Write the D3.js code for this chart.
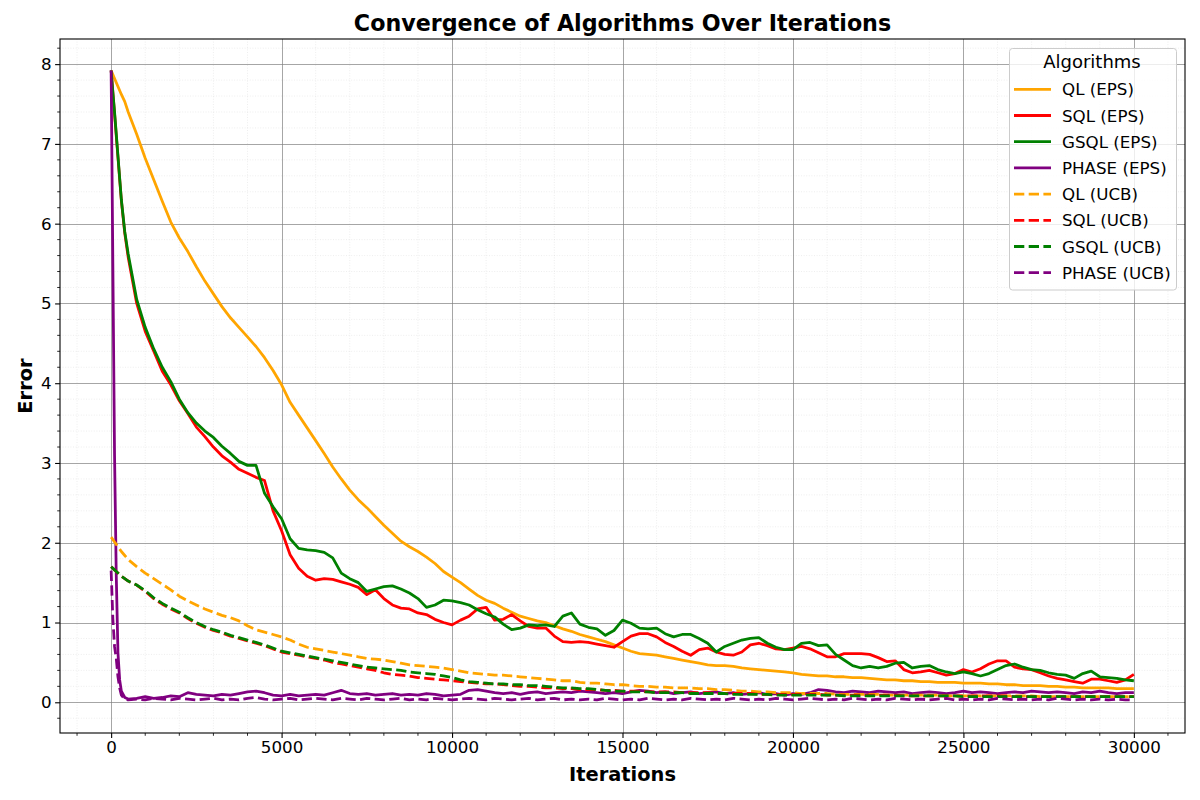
<!DOCTYPE html>
<html>
<head>
<meta charset="utf-8">
<script src="https://cdn.jsdelivr.net/npm/d3@7"></script>
<style>
  body { margin: 0; background: #fff; }
  text { font-family: "DejaVu Sans", sans-serif; }
</style>
</head>
<body>
<script>
// iteration grid shared by every series
const iterations = [0, 50, 100, 150, 200, 250, 300, 400, 500, 750,
  1000, 1250, 1500, 1750, 2000, 2250, 2500, 2750, 3000, 3250, 3500, 3750,
  4000, 4250, 4500, 4750, 5000, 5250, 5500, 5750, 6000, 6250, 6500, 6750,
  7000, 7250, 7500, 7750, 8000, 8250, 8500, 8750, 9000, 9250, 9500, 9750,
  10000, 10250, 10500, 10750, 11000, 11250, 11500, 11750, 12000, 12250, 12500, 12750,
  13000, 13250, 13500, 13750, 14000, 14250, 14500, 14750, 15000, 15250, 15500, 15750,
  16000, 16250, 16500, 16750, 17000, 17250, 17500, 17750, 18000, 18250, 18500, 18750,
  19000, 19250, 19500, 19750, 20000, 20250, 20500, 20750, 21000, 21250, 21500, 21750,
  22000, 22250, 22500, 22750, 23000, 23250, 23500, 23750, 24000, 24250, 24500, 24750,
  25000, 25250, 25500, 25750, 26000, 26250, 26500, 26750, 27000, 27250, 27500, 27750,
  28000, 28250, 28500, 28750, 29000, 29250, 29500, 29750, 30000];

const qlEps = [7.92, 7.87, 7.82, 7.77, 7.72, 7.67, 7.62, 7.53, 7.40, 7.12,
  6.82, 6.55, 6.28, 6.02,   5.82, 5.65, 5.46, 5.28,   5.12, 4.96, 4.82, 4.70,
  4.58, 4.46, 4.32, 4.16,   3.98, 3.76, 3.60, 3.44,   3.28, 3.12, 2.95, 2.80,
  2.66, 2.54, 2.44, 2.33,   2.22, 2.12, 2.02, 1.95,   1.89, 1.82, 1.74, 1.64,
  1.57, 1.50, 1.42, 1.34,   1.28, 1.24, 1.18, 1.13,   1.08, 1.05, 1.02, 1.00,
  0.96, 0.92, 0.89, 0.85,   0.82, 0.79, 0.76, 0.72,   0.68, 0.64, 0.61, 0.60,
  0.59, 0.57, 0.55, 0.53,   0.51, 0.49, 0.47, 0.46,   0.46, 0.45, 0.43, 0.42,
  0.41, 0.40, 0.39, 0.38,   0.37, 0.35, 0.34, 0.33,   0.33, 0.32, 0.32, 0.31,
  0.31, 0.30, 0.29, 0.28,   0.28, 0.27, 0.27, 0.26,   0.26, 0.25, 0.25, 0.25,
  0.24, 0.24, 0.24, 0.23,   0.23, 0.22, 0.22, 0.21,   0.21, 0.21, 0.20, 0.20,
  0.19, 0.19, 0.18, 0.18,   0.18, 0.18, 0.17, 0.17,   0.17];

const sqlEps = [7.92, 7.65, 7.38, 7.10, 6.83, 6.56, 6.29, 5.88, 5.58, 5.00,
  4.65, 4.40, 4.15, 3.98,   3.78, 3.62, 3.45, 3.33,   3.20, 3.09, 3.01, 2.92,
  2.87, 2.82, 2.78, 2.40,   2.15, 1.85, 1.68, 1.58,   1.53, 1.55, 1.54, 1.51,
  1.48, 1.44, 1.35, 1.41,   1.30, 1.22, 1.18, 1.17,   1.12, 1.10, 1.04, 1.00,
  0.97, 1.03, 1.08, 1.17,   1.19, 1.03, 1.04, 1.10,   1.02, 0.95, 0.93, 0.93,
  0.83, 0.76, 0.75, 0.76,   0.75, 0.73, 0.71, 0.69,   0.76, 0.83, 0.86, 0.86,
  0.82, 0.75, 0.70, 0.64,   0.59, 0.66, 0.68, 0.63,   0.60, 0.59, 0.63, 0.72,
  0.74, 0.71, 0.67, 0.66,   0.68, 0.70, 0.67, 0.62,   0.57, 0.57, 0.61, 0.61,
  0.61, 0.60, 0.56, 0.51,   0.52, 0.41, 0.37, 0.38,   0.40, 0.37, 0.34, 0.36,
  0.41, 0.38, 0.42, 0.48,   0.52, 0.52, 0.44, 0.42,   0.41, 0.37, 0.33, 0.30,
  0.28, 0.26, 0.24, 0.29,   0.29, 0.27, 0.25, 0.28,   0.35];

const gsqlEps = [7.92, 7.65, 7.40, 7.13, 6.85, 6.57, 6.30, 5.90, 5.62, 5.05,
  4.70, 4.43, 4.20, 4.02,   3.80, 3.63, 3.50, 3.40,   3.32, 3.21, 3.12, 3.02,
  2.97, 2.97, 2.62, 2.45,   2.30, 2.05, 1.93, 1.91,   1.90, 1.88, 1.81, 1.62,
  1.55, 1.50, 1.39, 1.42,   1.45, 1.46, 1.42, 1.37,   1.30, 1.19, 1.22, 1.28,
  1.27, 1.25, 1.22, 1.16,   1.11, 1.07, 0.98, 0.91,   0.93, 0.97, 0.96, 0.97,
  0.95, 1.08, 1.12, 0.98,   0.94, 0.92, 0.84, 0.90,   1.03, 0.99, 0.93, 0.92,
  0.93, 0.86, 0.82, 0.85,   0.85, 0.80, 0.74, 0.63,   0.70, 0.74, 0.78, 0.80,
  0.81, 0.74, 0.69, 0.66,   0.66, 0.74, 0.75, 0.71,   0.72, 0.60, 0.53, 0.46,
  0.43, 0.45, 0.43, 0.45,   0.49, 0.50, 0.43, 0.45,   0.46, 0.41, 0.38, 0.36,
  0.38, 0.36, 0.33, 0.36,   0.41, 0.46, 0.48, 0.44,   0.41, 0.40, 0.37, 0.35,
  0.34, 0.30, 0.36, 0.39,   0.32, 0.31, 0.30, 0.28,   0.27];

const phaseEps = [7.92, 5.50, 3.10, 1.60, 0.62, 0.28, 0.14, 0.06, 0.04, 0.05,
  0.07, 0.05, 0.06, 0.08,   0.07, 0.12, 0.10, 0.09,   0.08, 0.10, 0.09, 0.11,
  0.13, 0.14, 0.12, 0.09,   0.08, 0.10, 0.08, 0.09,   0.10, 0.09, 0.12, 0.15,
  0.11, 0.10, 0.11, 0.09,   0.10, 0.11, 0.09, 0.10,   0.09, 0.11, 0.10, 0.08,
  0.09, 0.10, 0.15, 0.16,   0.14, 0.12, 0.11, 0.12,   0.10, 0.12, 0.13, 0.11,
  0.12, 0.13, 0.12, 0.14,   0.13, 0.12, 0.11, 0.12,   0.11, 0.13, 0.15, 0.14,
  0.12, 0.13, 0.11, 0.12,   0.13, 0.11, 0.12, 0.13,   0.11, 0.12, 0.10, 0.11,
  0.12, 0.10, 0.11, 0.09,   0.11, 0.10, 0.12, 0.16,   0.15, 0.13, 0.12, 0.14,
  0.13, 0.12, 0.14, 0.13,   0.12, 0.13, 0.11, 0.12,   0.13, 0.12, 0.11, 0.12,
  0.14, 0.12, 0.13, 0.12,   0.11, 0.12, 0.13, 0.12,   0.14, 0.13, 0.12, 0.13,
  0.12, 0.11, 0.13, 0.12,   0.14, 0.12, 0.11, 0.12,   0.12];

const qlUcb = [2.07, 2.04, 2.01, 1.98, 1.95, 1.92, 1.89, 1.84, 1.79, 1.70,
  1.62, 1.55, 1.48, 1.41,   1.33, 1.27, 1.22, 1.17,   1.13, 1.09, 1.06, 1.02,
  0.96, 0.91, 0.88, 0.85,   0.82, 0.78, 0.73, 0.69,   0.67, 0.65, 0.63, 0.61,
  0.59, 0.57, 0.55, 0.54,   0.53, 0.51, 0.49, 0.47,   0.46, 0.45, 0.44, 0.43,
  0.41, 0.39, 0.37, 0.36,   0.35, 0.34, 0.34, 0.33,   0.32, 0.31, 0.30, 0.29,
  0.28, 0.27, 0.27, 0.25,   0.24, 0.24, 0.23, 0.22,   0.22, 0.21, 0.20, 0.20,
  0.19, 0.19, 0.18, 0.18,   0.18, 0.17, 0.17, 0.16,   0.16, 0.15, 0.14, 0.14,
  0.13, 0.13, 0.12, 0.12,   0.12, 0.11, 0.11, 0.11,   0.11, 0.10, 0.10, 0.10,
  0.10, 0.10, 0.10, 0.09,   0.09, 0.09, 0.09, 0.09,   0.09, 0.09, 0.08, 0.08,
  0.08, 0.08, 0.08, 0.08,   0.08, 0.08, 0.08, 0.08,   0.08, 0.07, 0.07, 0.07,
  0.07, 0.07, 0.07, 0.07,   0.07, 0.07, 0.07, 0.07,   0.07];

const sqlUcb = [1.70, 1.68, 1.66, 1.64, 1.62, 1.60, 1.58, 1.55, 1.52, 1.47,
  1.39, 1.30, 1.23, 1.17,   1.12, 1.05, 0.99, 0.94,   0.90, 0.87, 0.83, 0.80,
  0.77, 0.74, 0.71, 0.67,   0.63, 0.61, 0.59, 0.57,   0.55, 0.53, 0.50, 0.48,
  0.46, 0.44, 0.42, 0.40,   0.37, 0.35, 0.34, 0.33,   0.31, 0.30, 0.29, 0.28,
  0.27, 0.26, 0.25, 0.24,   0.23, 0.23, 0.22, 0.21,   0.20, 0.20, 0.19, 0.18,
  0.18, 0.17, 0.17, 0.16,   0.16, 0.16, 0.15, 0.15,   0.14, 0.14, 0.14, 0.13,
  0.13, 0.13, 0.13, 0.12,   0.12, 0.12, 0.12, 0.11,   0.11, 0.11, 0.11, 0.11,
  0.10, 0.10, 0.10, 0.10,   0.10, 0.10, 0.10, 0.10,   0.09, 0.09, 0.09, 0.09,
  0.09, 0.09, 0.09, 0.09,   0.09, 0.08, 0.08, 0.08,   0.08, 0.08, 0.08, 0.08,
  0.08, 0.08, 0.08, 0.08,   0.08, 0.08, 0.07, 0.07,   0.07, 0.07, 0.07, 0.07,
  0.07, 0.07, 0.07, 0.07,   0.07, 0.07, 0.07, 0.07,   0.07];

const gsqlUcb = [1.70, 1.68, 1.66, 1.64, 1.62, 1.60, 1.58, 1.55, 1.52, 1.47,
  1.40, 1.31, 1.24, 1.18,   1.13, 1.06, 1.00, 0.95,   0.91, 0.88, 0.84, 0.81,
  0.78, 0.75, 0.72, 0.68,   0.64, 0.62, 0.60, 0.58,   0.56, 0.54, 0.52, 0.50,
  0.48, 0.46, 0.44, 0.43,   0.42, 0.41, 0.40, 0.38,   0.37, 0.36, 0.35, 0.33,
  0.31, 0.28, 0.26, 0.25,   0.24, 0.23, 0.23, 0.22,   0.22, 0.21, 0.21, 0.20,
  0.19, 0.18, 0.18, 0.17,   0.17, 0.16, 0.15, 0.14,   0.14, 0.13, 0.13, 0.13,
  0.12, 0.12, 0.12, 0.12,   0.11, 0.11, 0.11, 0.11,   0.11, 0.10, 0.10, 0.10,
  0.10, 0.10, 0.09, 0.09,   0.09, 0.09, 0.09, 0.09,   0.09, 0.09, 0.08, 0.08,
  0.08, 0.08, 0.08, 0.08,   0.08, 0.08, 0.08, 0.08,   0.08, 0.08, 0.08, 0.08,
  0.07, 0.07, 0.07, 0.07,   0.07, 0.07, 0.07, 0.07,   0.07, 0.07, 0.07, 0.07,
  0.07, 0.07, 0.07, 0.07,   0.07, 0.07, 0.07, 0.07,   0.07];

const phaseUcb = [1.65, 1.05, 0.70, 0.55, 0.32, 0.18, 0.09, 0.04, 0.03, 0.04,
  0.03, 0.05, 0.04, 0.03,   0.05, 0.04, 0.03, 0.04,   0.05, 0.03, 0.04, 0.03,
  0.05, 0.06, 0.04, 0.03,   0.04, 0.05, 0.03, 0.04,   0.05, 0.04, 0.03, 0.05,
  0.04, 0.03, 0.05, 0.04,   0.03, 0.04, 0.05, 0.03,   0.04, 0.03, 0.05, 0.04,
  0.03, 0.04, 0.05, 0.04,   0.03, 0.05, 0.04, 0.03,   0.04, 0.05, 0.03, 0.04,
  0.05, 0.03, 0.04, 0.03,   0.04, 0.03, 0.05, 0.04,   0.03, 0.04, 0.03, 0.05,
  0.04, 0.03, 0.04, 0.03,   0.05, 0.04, 0.03, 0.04,   0.03, 0.05, 0.04, 0.03,
  0.04, 0.03, 0.05, 0.04,   0.03, 0.04, 0.05, 0.04,   0.03, 0.04, 0.03, 0.05,
  0.04, 0.03, 0.04, 0.03,   0.05, 0.04, 0.03, 0.04,   0.03, 0.04, 0.05, 0.03,
  0.04, 0.03, 0.04, 0.03,   0.05, 0.04, 0.03, 0.04,   0.03, 0.04, 0.03, 0.05,
  0.04, 0.03, 0.04, 0.03,   0.04, 0.03, 0.04, 0.03,   0.03];

const seriesNames = ["QL (EPS)", "SQL (EPS)", "GSQL (EPS)", "PHASE (EPS)",
                     "QL (UCB)", "SQL (UCB)", "GSQL (UCB)", "PHASE (UCB)"];
const seriesValues = [qlEps, sqlEps, gsqlEps, phaseEps, qlUcb, sqlUcb, gsqlUcb, phaseUcb];
const colors = ["orange", "red", "green", "purple", "orange", "red", "green", "purple"];
const dashed = [false, false, false, false, true, true, true, true];

const xTicks = [0, 5000, 10000, 15000, 20000, 25000, 30000];
const yTicks = [0, 1, 2, 3, 4, 5, 6, 7, 8];

const W = 1200, H = 800;
const pLeft = 60, pRight = 1185, pTop = 39, pBottom = 733;

const svg = d3.select("body").append("svg")
  .attr("width", W).attr("height", H);

const x = d3.scaleLinear().domain([-1500, 31500]).range([pLeft, pRight]);
const y = d3.scaleLinear().domain([-0.385, 8.315]).range([pBottom, pTop]);

const xMinor = d3.range(-1000, 31001, 1000).filter(v => v % 5000 !== 0);
const yMinor = d3.range(-0.2, 8.31, 0.2).map(v => +v.toFixed(1)).filter(v => Math.abs(v - Math.round(v)) > 1e-6);

// minor grid
const gMinor = svg.append("g");
gMinor.selectAll(".mx").data(xMinor).join("line")
  .attr("x1", d => x(d)).attr("x2", d => x(d))
  .attr("y1", pTop).attr("y2", pBottom)
  .attr("stroke", "#cfcfcf").attr("stroke-opacity", 0.45)
  .attr("stroke-width", 0.8).attr("stroke-dasharray", "1,1.6");
gMinor.selectAll(".my").data(yMinor).join("line")
  .attr("y1", d => y(d)).attr("y2", d => y(d))
  .attr("x1", pLeft).attr("x2", pRight)
  .attr("stroke", "#cfcfcf").attr("stroke-opacity", 0.45)
  .attr("stroke-width", 0.8).attr("stroke-dasharray", "1,1.6");

// major grid
const gMajor = svg.append("g");
gMajor.selectAll(".gx").data(xTicks).join("line")
  .attr("x1", d => Math.round(x(d)) + 0.5).attr("x2", d => Math.round(x(d)) + 0.5)
  .attr("y1", pTop).attr("y2", pBottom)
  .attr("stroke", "#808080").attr("stroke-opacity", 0.7).attr("stroke-width", 1);
gMajor.selectAll(".gy").data(yTicks).join("line")
  .attr("y1", d => Math.round(y(d)) + 0.5).attr("y2", d => Math.round(y(d)) + 0.5)
  .attr("x1", pLeft).attr("x2", pRight)
  .attr("stroke", "#808080").attr("stroke-opacity", 0.7).attr("stroke-width", 1);

// lines
svg.append("clipPath").attr("id", "plot")
  .append("rect").attr("x", pLeft).attr("y", pTop)
  .attr("width", pRight - pLeft).attr("height", pBottom - pTop);

const line = d3.line()
  .x((d, i) => x(iterations[i]))
  .y(d => y(d));

svg.append("g").attr("clip-path", "url(#plot)")
  .selectAll("path").data(seriesValues).join("path")
  .attr("d", d => line(d))
  .attr("fill", "none")
  .attr("stroke", (d, i) => colors[i])
  .attr("stroke-width", 2.78)
  .attr("stroke-linejoin", "round")
  .attr("stroke-dasharray", (d, i) => dashed[i] ? "10.3,4.4" : null);

// axes
const xAxis = d3.axisBottom(x).tickValues(xTicks).tickSize(4.9).tickPadding(3.5)
  .tickFormat(d3.format("d"));
const yAxis = d3.axisLeft(y).tickValues(yTicks).tickSize(4.9).tickPadding(3.5)
  .tickFormat(d3.format("d"));

const gx = svg.append("g").attr("transform", `translate(0,${pBottom})`).call(xAxis);
const gy = svg.append("g").attr("transform", `translate(${pLeft},0)`).call(yAxis);
[gx, gy].forEach(g => {
  g.select(".domain").remove();
  g.selectAll(".tick line").attr("stroke", "#000").attr("stroke-width", 1.1);
  g.selectAll(".tick text").attr("fill", "#000")
    .style("font-family", "DejaVu Sans").style("font-size", "16.7px");
});
gx.selectAll(".tick text").attr("dy", "0.72em");

// minor ticks
svg.append("g").selectAll("line").data(xMinor).join("line")
  .attr("x1", d => x(d)).attr("x2", d => x(d))
  .attr("y1", pBottom).attr("y2", pBottom + 2.8)
  .attr("stroke", "#000").attr("stroke-width", 0.83);
svg.append("g").selectAll("line").data(yMinor).join("line")
  .attr("y1", d => y(d)).attr("y2", d => y(d))
  .attr("x1", pLeft).attr("x2", pLeft - 2.8)
  .attr("stroke", "#000").attr("stroke-width", 0.83);

// frame
svg.append("rect").attr("x", pLeft).attr("y", pTop)
  .attr("width", pRight - pLeft).attr("height", pBottom - pTop)
  .attr("fill", "none").attr("stroke", "#000").attr("stroke-width", 1.1);

// titles
svg.append("text").attr("x", (pLeft + pRight) / 2).attr("y", 31)
  .attr("text-anchor", "middle").style("font-size", "22.2px").style("font-weight", "bold")
  .text("Convergence of Algorithms Over Iterations");
svg.append("text").attr("x", (pLeft + pRight) / 2).attr("y", 781)
  .attr("text-anchor", "middle").style("font-size", "19.4px").style("font-weight", "bold")
  .text("Iterations");
svg.append("text").attr("transform", `translate(32,${(pTop + pBottom) / 2}) rotate(-90)`)
  .attr("text-anchor", "middle").style("font-size", "19.4px").style("font-weight", "bold")
  .text("Error");

// legend
const lg = svg.append("g");
lg.append("rect").attr("x", 1009.5).attr("y", 48.5).attr("width", 167).attr("height", 241.5)
  .attr("rx", 3).attr("fill", "#fff").attr("fill-opacity", 0.8)
  .attr("stroke", "#cccccc").attr("stroke-width", 1);
lg.append("text").attr("x", 1092).attr("y", 67.5).attr("text-anchor", "middle")
  .style("font-size", "18px").text("Algorithms");
const rows = lg.selectAll(".row").data(seriesNames).join("g")
  .attr("transform", (d, i) => `translate(0,${89.3 + i * 26.2})`);
rows.append("line").attr("x1", 1014).attr("x2", 1051).attr("y1", 0).attr("y2", 0)
  .attr("stroke", (d, i) => colors[i]).attr("stroke-width", 2.78)
  .attr("stroke-dasharray", (d, i) => dashed[i] ? "10.3,4.4" : null);
rows.append("text").attr("x", 1062).attr("y", 6)
  .style("font-size", "16.7px").text(d => d);
</script>
</body>
</html>
